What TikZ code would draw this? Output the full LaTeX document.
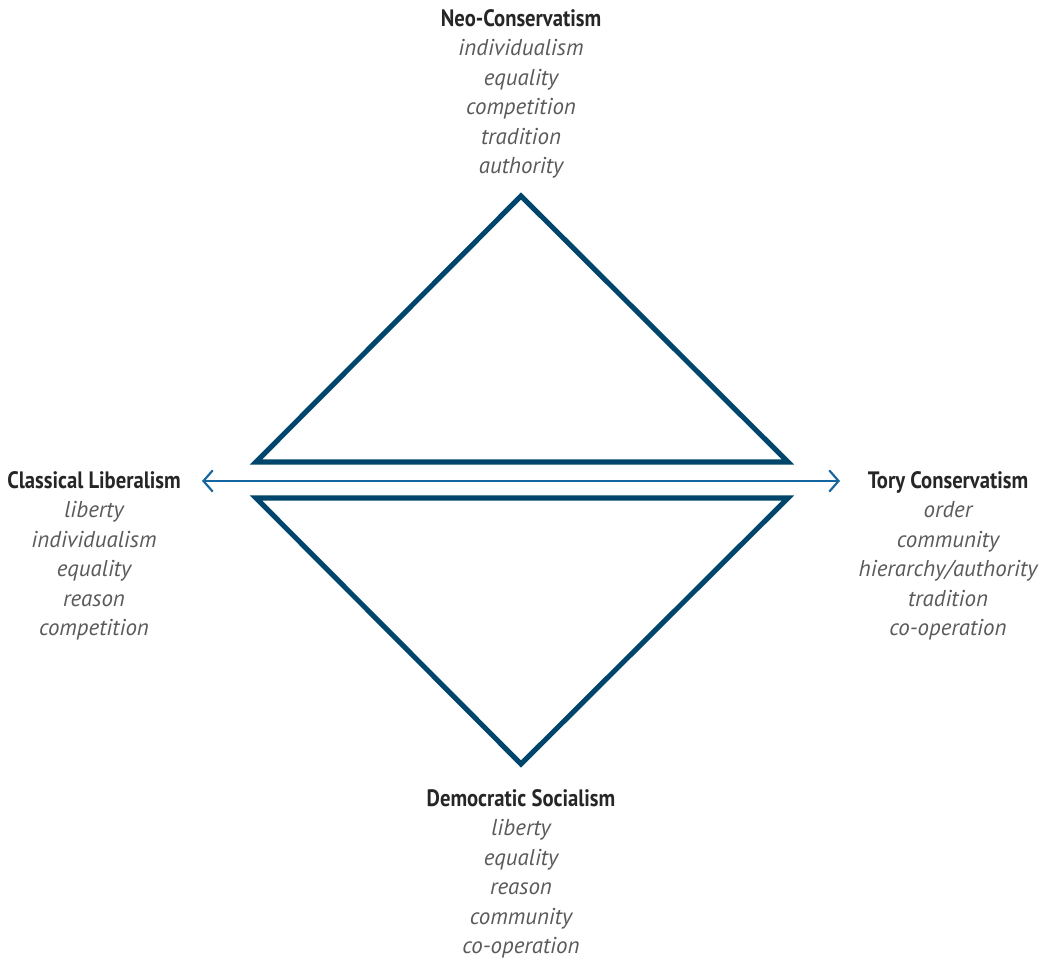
\documentclass[tikz,border=0pt]{standalone}
\usepackage{fontspec}
\setmainfont{PT Sans}
\newfontfamily\titlefont[FakeStretch=0.87]{PT Sans}
\newfontfamily\itemfont{PT Sans}
\usetikzlibrary{arrows.meta}
\definecolor{tri}{HTML}{00456C}
\definecolor{arr}{HTML}{1566A0}
\definecolor{itemgray}{HTML}{5A5A5A}
\tikzset{
  tri/.style={draw=tri, line width=3.8pt, line join=miter},
  axis/.style={draw=arr, line width=1.6pt, {Straight Barb[length=7pt,width=16pt,line width=1.6pt]}-{Straight Barb[length=7pt,width=16pt,line width=1.6pt]}},
  ttl/.style={anchor=base, inner sep=0pt, font=\titlefont\bfseries\fontsize{17.8}{20}\selectfont, text=black!85},
  itm/.style={anchor=base, inner sep=0pt, font=\itemfont\itshape\fontsize{17.2}{20}\selectfont, text=itemgray}
}
\begin{document}
\begin{tikzpicture}[x=0.75pt,y=-0.75pt]
\useasboundingbox (0,0) rectangle (1043,959);
% triangles
\coordinate (ta) at (521,196);
\coordinate (tl) at (256,462);
\coordinate (tr) at (788,462);
\coordinate (bl) at (256,498);
\coordinate (br) at (788,498);
\coordinate (ba) at (521,764);
\draw[tri] (ta) -- (tr) -- (tl) -- cycle;
\draw[tri] (bl) -- (br) -- (ba) -- cycle;
% axis
\coordinate (al) at (202,481);
\coordinate (ar) at (840,481);
\draw[axis] (al) -- (ar);
% Neo-Conservatism
\node[ttl] (nt) at (521,27) {Neo-Conservatism};
\node[itm] (n1) at (521,56) {individualism};
\node[itm] (n2) at (521,85.5) {equality};
\node[itm] (n3) at (521,115) {competition};
\node[itm] (n4) at (521,144.5) {tradition};
\node[itm] (n5) at (521,174) {authority};
% Classical Liberalism
\node[ttl] (ct) at (94,488) {Classical Liberalism};
\node[itm] (c1) at (94,517.5) {liberty};
\node[itm] (c2) at (94,547) {individualism};
\node[itm] (c3) at (94,576.5) {equality};
\node[itm] (c4) at (94,606) {reason};
\node[itm] (c5) at (94,635.5) {competition};
% Tory Conservatism
\node[ttl] (rt) at (948,488) {Tory Conservatism};
\node[itm] (r1) at (948,517.5) {order};
\node[itm] (r2) at (948,547) {community};
\node[itm] (r3) at (948,576.5) {hierarchy/authority};
\node[itm] (r4) at (948,606) {tradition};
\node[itm] (r5) at (948,635.5) {co-operation};
% Democratic Socialism
\node[ttl] (dt) at (521,806) {Democratic Socialism};
\node[itm] (d1) at (521,835.5) {liberty};
\node[itm] (d2) at (521,865) {equality};
\node[itm] (d3) at (521,894.5) {reason};
\node[itm] (d4) at (521,924) {community};
\node[itm] (d5) at (521,953.5) {co-operation};
\end{tikzpicture}
\end{document}
